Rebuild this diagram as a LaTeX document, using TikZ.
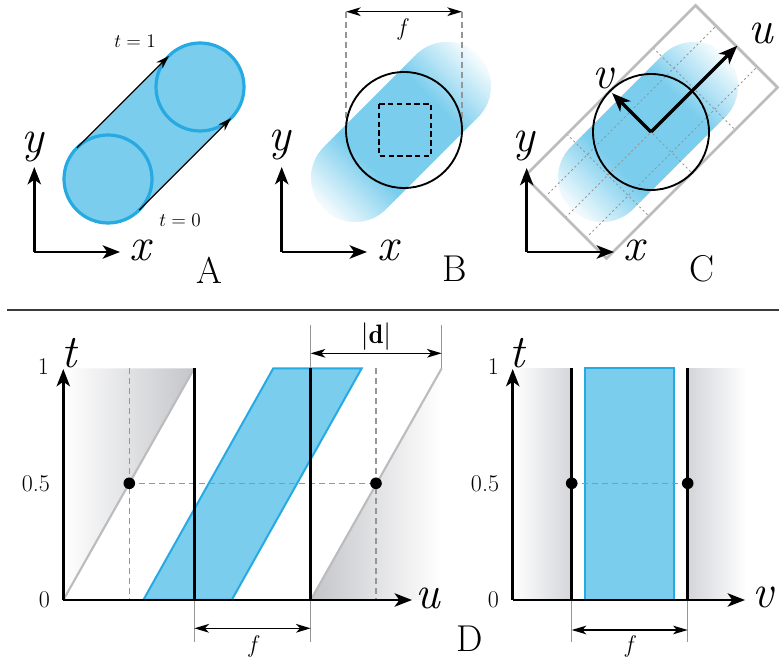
\documentclass[tikz,border=0pt]{standalone}
\usepackage{fontspec}
\usetikzlibrary{arrows.meta}
\definecolor{cfill}{RGB}{122,205,237}
\definecolor{cstroke}{RGB}{39,170,225}
\definecolor{rectgray}{RGB}{188,188,190}
\definecolor{dashgray}{RGB}{150,150,150}
\definecolor{shadeA}{RGB}{196,197,201}
\definecolor{shadeB}{RGB}{212,213,217}
\definecolor{sepgray}{RGB}{60,60,60}
\begin{document}
\begin{tikzpicture}[x=0.75pt,y=-0.75pt,
  bigtip/.tip={Stealth[length=13pt,width=10pt,inset=3.5pt]},
  dimtip/.tip={Stealth[length=11pt,width=6.5pt,inset=3pt]},
  smalltip/.tip={Stealth[length=10pt,width=6.5pt,inset=3pt]},
  uvtip/.tip={Stealth[length=14pt,width=11pt,inset=4pt]},
  axisarrow/.style={line width=2pt,-bigtip},
  dimarrow/.style={line width=1.1pt,dimtip-dimtip},
  motion/.style={line width=0.9pt,-smalltip},
  uvarrow/.style={line width=2.4pt,-uvtip},
  guidedash/.style={dashgray,line width=0.9pt,dash pattern=on 4.5pt off 3pt},
  griddot/.style={dashgray,line width=0.7pt,dash pattern=on 1.5pt off 2pt},
  blackline/.style={line width=2pt},
  extline/.style={dashgray,line width=1pt},
  diagline/.style={rectgray,line width=1.6pt},
  dotmark/.style={fill=black},
  axlab/.style={font=\fontsize{35}{35}\selectfont\itshape,inner sep=0pt},
  panlab/.style={font=\fontsize{28}{28}\selectfont,inner sep=0pt},
  smalllab/.style={font=\fontsize{15}{15}\selectfont,inner sep=0pt},
  ticklab/.style={font=\fontsize{18}{18}\selectfont,inner sep=0pt},
  flab/.style={font=\fontsize{18}{18}\selectfont\itshape,inner sep=0pt},
  blueshape/.style={fill=cfill,draw=cstroke,line width=1.5pt}
]
\useasboundingbox (0,0) rectangle (779,666);

% ================= Panel A =================
\begin{scope}[shift={(154,133)},rotate=45]
  \fill[cfill] (-65,-44) -- (65,-44) arc[start angle=-90,end angle=90,radius=44] -- (-65,44) arc[start angle=90,end angle=270,radius=44] -- cycle;
\end{scope}
\draw[cstroke,fill=cfill,line width=2.4pt] (200,87) circle[radius=44];
\draw[cstroke,fill=cfill,line width=2.4pt] (108,179) circle[radius=44];
\coordinate (a1) at (76.9,147.9);
\coordinate (a2) at (168.9,55.9);
\coordinate (b1) at (139.1,210.1);
\coordinate (b2) at (231.1,118.1);
\draw[motion] (a1) -- (a2);
\draw[motion] (b1) -- (b2);
\node[smalllab] (t1) at (135,41) {$t = 1$};
\node[smalllab] (t0) at (180,220.5) {$t = 0$};
\coordinate (oA) at (34.3,252);
\coordinate (yA) at (34.3,167);
\coordinate (xA) at (120,252);
\draw[axisarrow] (oA) -- (yA);
\draw[axisarrow] (oA) -- (xA);
\node[axlab] (ylA) at (33,147) {y};
\node[axlab] (xlA) at (140,250) {x};
\node[panlab] (labA) at (209.5,270) {A};

% ================= Panel B =================
\begin{scope}[shift={(401,132)},rotate=45]
  \clip (-65,-44) -- (65,-44) arc[start angle=-90,end angle=90,radius=44] -- (-65,44) arc[start angle=90,end angle=270,radius=44] -- cycle;
  \foreach \p in {-112,-110,...,112}{
    \pgfmathsetmacro\q{abs(\p)<=45 ? 100 : max(0,100*(112-abs(\p))/67)}
    \fill[cfill!\q!white] (\p-1.6,-46) rectangle (\p+1.6,46);
  }
\end{scope}
\coordinate (fBl) at (346,11.7);
\coordinate (fBr) at (462,11.7);
\coordinate (fBlb) at (346,122);
\coordinate (fBrb) at (462,122);
\draw[guidedash] (fBl) -- (fBlb);
\draw[guidedash] (fBr) -- (fBrb);
\draw[line width=1.4pt] (404,130) circle[radius=58];
\draw[line width=1.4pt,dash pattern=on 4pt off 2.6pt] (379,104) rectangle (431,156);
\draw[dimarrow] (fBl) -- (fBr);
\node[flab] (fB) at (401.7,30) {f};
\coordinate (oB) at (281.7,252);
\coordinate (yB) at (281.7,167);
\coordinate (xB) at (367,252);
\draw[axisarrow] (oB) -- (yB);
\draw[axisarrow] (oB) -- (xB);
\node[axlab] (ylB) at (280,145) {y};
\node[axlab] (xlB) at (387.5,250) {x};
\node[panlab] (labB) at (455,269) {B};

% ================= Panel C =================
\begin{scope}[shift={(648,132)},rotate=45]
  \clip (-65,-44) -- (65,-44) arc[start angle=-90,end angle=90,radius=44] -- (-65,44) arc[start angle=90,end angle=270,radius=44] -- cycle;
  \foreach \p in {-112,-110,...,112}{
    \pgfmathsetmacro\q{abs(\p)<=45 ? 100 : max(0,100*(112-abs(\p))/67)}
    \fill[cfill!\q!white] (\p-1.6,-46) rectangle (\p+1.6,46);
  }
\end{scope}
\begin{scope}[shift={(651,132)},rotate=45]
  \foreach \b in {-29,0,29}{
    \draw[griddot] (-121,\b) -- (121,\b);
  }
  \foreach \a in {-61,0,61}{
    \draw[griddot] (\a,-58) -- (\a,58);
  }
  \draw[rectgray,line width=2pt] (-121,-58) rectangle (121,58);
\end{scope}
\draw[line width=1.4pt] (651,132) circle[radius=58];
\begin{scope}[shift={(651,132)},rotate=45]
  \coordinate (oC) at (0,0);
  \coordinate (uC) at (122,0);
  \coordinate (vC) at (0,-55);
  \draw[uvarrow] (oC) -- (uC);
  \draw[uvarrow] (oC) -- (vC);
\end{scope}
\node[axlab] (ulC) at (761,33) {u};
\node[axlab] (vlC) at (602.5,78) {v};
\coordinate (oC2) at (526.7,252);
\coordinate (yC) at (526.7,168);
\coordinate (xC) at (614,252);
\draw[axisarrow] (oC2) -- (yC);
\draw[axisarrow] (oC2) -- (xC);
\node[axlab] (ylC) at (524,146) {y};
\node[axlab] (xlC) at (634,250) {x};
\node[panlab] (labC) at (701.7,269) {C};

% separator
\coordinate (sepL) at (7,310);
\coordinate (sepR) at (779,310);
\draw[sepgray,line width=1.1pt] (sepL) -- (sepR);

% ================= Panel D left =================
\shade[left color=white,right color=shadeA] (63.3,600) -- (63.3,368.3) -- (194.3,368.3) -- cycle;
\shade[left color=shadeA,right color=white] (310.7,600) -- (441.7,368.3) -- (441.7,600) -- cycle;
\coordinate (g1a) at (63.3,600);
\coordinate (g1b) at (194.3,368.3);
\coordinate (g2a) at (310.7,600);
\coordinate (g2b) at (441.7,368.3);
\draw[diagline] (g1a) -- (g1b);
\draw[diagline] (g2a) -- (g2b);
\draw[blueshape] (143.3,600) -- (273.3,368.3) -- (361.7,368.3) -- (231.7,600) -- cycle;
\coordinate (p1) at (129.3,483.3);
\coordinate (p2) at (376,483.3);
\draw[guidedash] (129.3,368.3) -- (p1) -- (129.3,600);
\draw[guidedash] (376,368.3) -- (p2) -- (376,600);
\draw[guidedash] (p1) -- (p2);
\draw[extline] (194.3,600) -- (194.3,641.7);
\draw[extline] (310.7,325) -- (310.7,641.7);
\draw[extline] (441.7,325) -- (g2b);
\draw[blackline] (194.3,368.3) -- (194.3,600);
\draw[blackline] (310.7,368.3) -- (310.7,600);
\coordinate (oD) at (63.3,600);
\coordinate (tD) at (63.3,369);
\coordinate (uD) at (412,600);
\draw[axisarrow] (oD) -- (tD);
\draw[axisarrow] (oD) -- (uD);
\fill[dotmark] (p1) circle[radius=5.8];
\fill[dotmark] (p2) circle[radius=5.8];
\coordinate (dL) at (310.7,353.3);
\coordinate (dR) at (441.7,353.3);
\draw[dimarrow] (dL) -- (dR);
\node[font=\fontsize{20}{20}\selectfont,inner sep=0pt] (dlab) at (376,337) {$|\mathbf{d}|$};
\coordinate (fL) at (194.3,628.3);
\coordinate (fR) at (310.7,628.3);
\draw[dimarrow] (fL) -- (fR);
\node[flab] (fD1) at (252.5,646.7) {f};
\node[axlab] (tl1) at (69,353) {t};
\node[axlab] (ul1) at (427.5,598) {u};
\node[ticklab] (one1) at (43.3,366.7) {1};
\node[ticklab] (half1) at (35.8,483.3) {0.5};
\node[ticklab] (zero1) at (44.3,599.7) {0};

% ================= Panel D right =================
\shade[left color=white,right color=shadeB] (512.7,368.3) rectangle (571.7,600);
\shade[left color=shadeB,right color=white] (687.7,368.3) rectangle (746.7,600);
\draw[blueshape] (585,368.3) rectangle (673.7,600);
\coordinate (q1) at (571.7,483.3);
\coordinate (q2) at (687.7,483.3);
\draw[guidedash] (q1) -- (q2);
\draw[extline] (571.7,600) -- (571.7,641.7);
\draw[extline] (687.7,600) -- (687.7,641.7);
\draw[blackline] (571.7,368.3) -- (571.7,600);
\draw[blackline] (687.7,368.3) -- (687.7,600);
\coordinate (oE) at (512.7,600);
\coordinate (tE) at (512.7,369);
\coordinate (vE) at (745,600);
\draw[axisarrow] (oE) -- (tE);
\draw[axisarrow] (oE) -- (vE);
\fill[dotmark] (q1) circle[radius=5.8];
\fill[dotmark] (q2) circle[radius=5.8];
\coordinate (gL) at (571.7,630);
\coordinate (gR) at (687.7,630);
\draw[dimarrow] (gL) -- (gR);
\node[flab] (fD2) at (629,646.7) {f};
\node[axlab] (tl2) at (516.7,353) {t};
\node[axlab] (vl2) at (763,597.5) {v};
\node[ticklab] (one2) at (493.3,366.7) {1};
\node[ticklab] (half2) at (485,483.3) {0.5};
\node[ticklab] (zero2) at (493.3,599.7) {0};
\node[panlab] (labD) at (470,638.5) {D};
\end{tikzpicture}
\end{document}
